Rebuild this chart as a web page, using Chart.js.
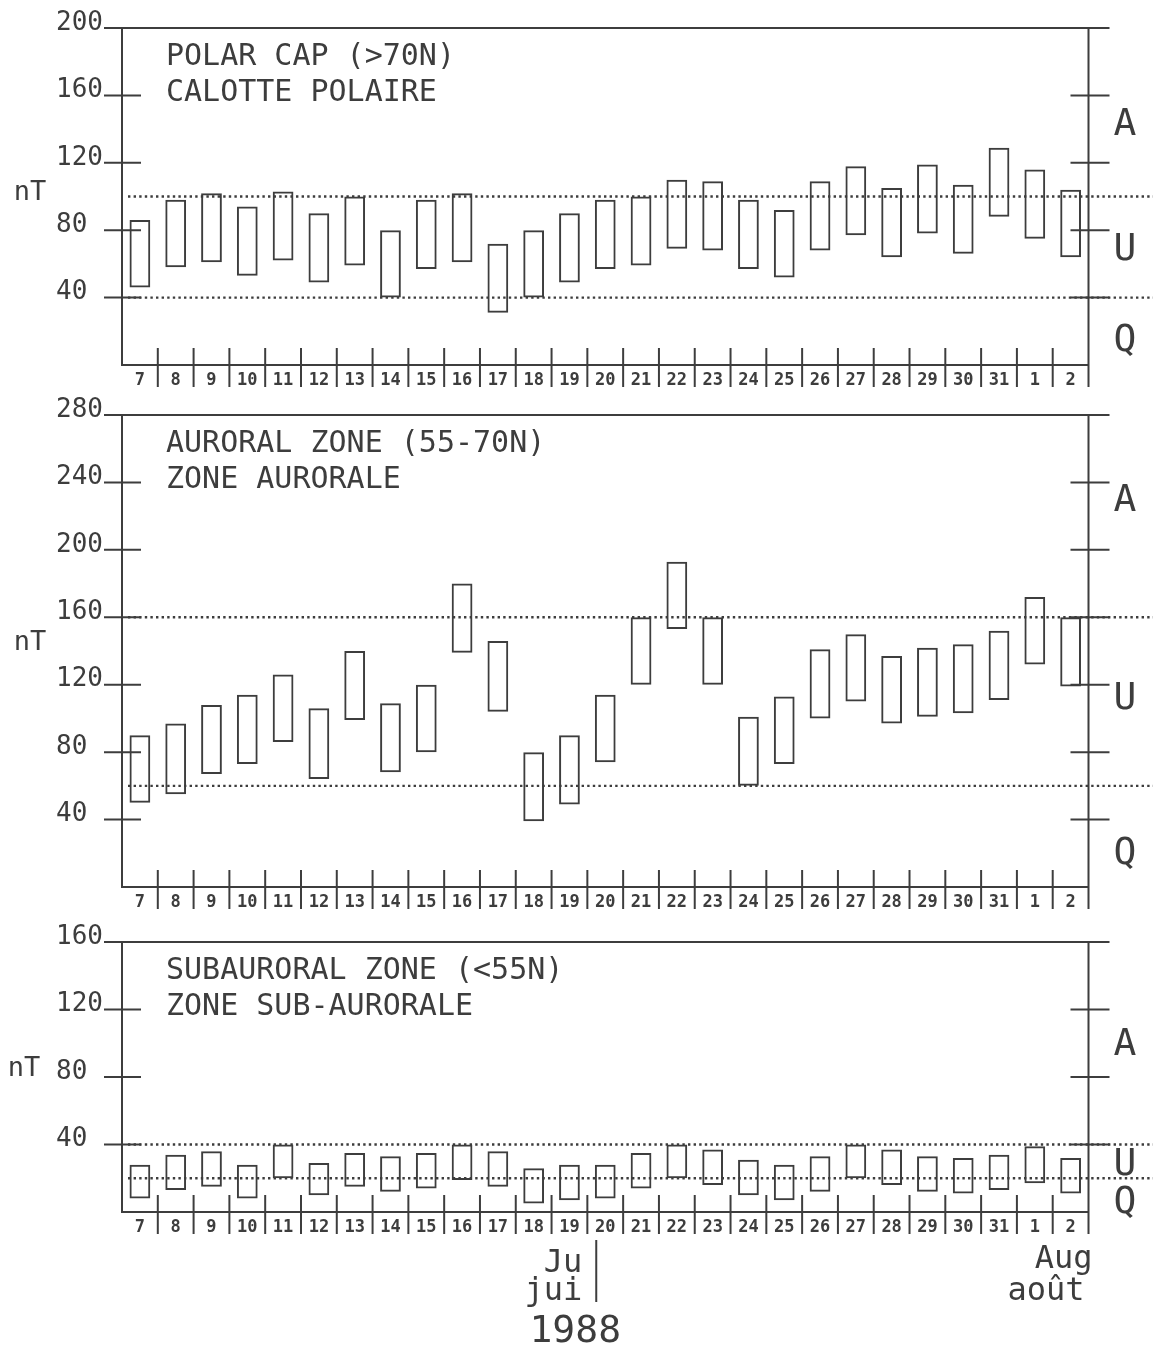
<!DOCTYPE html>
<html>
<head>
<meta charset="utf-8">
<script src="https://cdn.jsdelivr.net/npm/chart.js@4.4.1/dist/chart.umd.min.js"></script>
<style>
  body { margin: 0; background: #fff; }
  #page { position: relative; width: 1153px; height: 1345px; background: #fff; }
  .panel { position: absolute; left: 0; width: 1153px; }
</style>
</head>
<body>
<div id="page">
  <div class="panel" style="top:0;height:392px"><canvas id="polarChart"></canvas></div>
  <div class="panel" style="top:392px;height:523px"><canvas id="auroralChart"></canvas></div>
  <div class="panel" style="top:915px;height:430px"><canvas id="subChart"></canvas></div>
</div>
<script>
// Days, July 7 1988 to August 2 1988
const days = ['7', '8', '9', '10', '11', '12', '13', '14', '15', '16', '17', '18', '19', '20',
  '21', '22', '23', '24', '25', '26', '27', '28', '29', '30', '31', '1', '2'];

// Polar cap (>70N) daily range, nT
const polarLow  = [46, 58, 61, 53, 62, 49, 59, 40, 57, 61, 31, 40, 49, 57, 59, 69, 68, 57, 52, 68, 77, 64, 78, 66, 88, 75, 64];
const polarHigh = [86, 98, 102, 94, 103, 90, 100, 80, 98, 102, 72, 80, 90, 98, 100, 110, 109, 98, 92, 109, 118, 105, 119, 107, 129, 116, 104];

// Auroral zone (55-70N)
const auroralLow  = [50, 55, 67, 73, 86, 64, 99, 68, 80, 139, 104, 39, 49, 74, 120, 153, 120, 60, 73, 100, 110, 97, 101, 103, 111, 132, 119];
const auroralHigh = [90, 97, 108, 114, 126, 106, 140, 109, 120, 180, 146, 80, 90, 114, 160, 193, 160, 101, 113, 141, 150, 137, 142, 144, 152, 172, 160];

// Subauroral zone (<55N)
const subLow  = [8, 13, 15, 8, 20, 10, 15, 12, 14, 19, 15, 5, 7, 8, 14, 20, 16, 10, 7, 12, 20, 16, 12, 11, 13, 17, 11];
const subHigh = [28, 34, 36, 28, 40, 29, 35, 33, 35, 40, 36, 26, 28, 28, 35, 40, 37, 31, 28, 33, 40, 37, 33, 32, 34, 39, 32];

// dotted activity thresholds
const polarLevels = [40, 100];
const auroralLevels = [60, 160];
const subLevels = [20, 40];

const polarTitle = ['POLAR CAP (>70N)', 'CALOTTE POLAIRE'];
const auroralTitle = ['AURORAL ZONE (55-70N)', 'ZONE AURORALE'];
const subTitle = ['SUBAURORAL ZONE (<55N)', 'ZONE SUB-AURORALE'];
const zoneLetters = ['A', 'U', 'Q'];

const ink = '#3d3d3d';
const mono = '"DejaVu Sans Mono", "Liberation Mono", monospace';

function seg(ctx, x1, y1, x2, y2) {
  ctx.beginPath();
  ctx.moveTo(x1, y1);
  ctx.lineTo(x2, y2);
  ctx.stroke();
}

// frame, stubs, thresholds and lettering of each panel
const panelDecor = {
  id: 'panelDecor',
  beforeDatasetsDraw(chart, args, opts) {
    const { ctx, chartArea: a, scales: { y } } = chart;
    ctx.save();
    ctx.strokeStyle = ink;
    ctx.lineWidth = 2.4;
    ctx.setLineDash([2.4, 3.2]);
    opts.levels.forEach(v => {
      const py = y.getPixelForValue(v);
      seg(ctx, a.left + 6, py, chart.width, py);
    });
    ctx.restore();
  },
  afterDatasetsDraw(chart, args, opts) {
    const { ctx, chartArea: a, scales: { x, y } } = chart;
    ctx.save();
    ctx.strokeStyle = ink;
    ctx.fillStyle = ink;
    ctx.lineWidth = 2;

    seg(ctx, a.left - 18, a.top, a.right + 21, a.top);
    seg(ctx, a.right, a.top, a.right, a.bottom + 22);

    y.ticks.forEach(t => {
      if (t.value <= y.min || t.value >= y.max) return;
      const py = y.getPixelForValue(t.value);
      seg(ctx, a.left - 18, py, a.left + 19, py);
      seg(ctx, a.right - 18, py, a.right + 21, py);
    });

    for (let i = 1; i < days.length; i++) {
      const px = (x.getPixelForValue(i - 1) + x.getPixelForValue(i)) / 2;
      seg(ctx, px, a.bottom - 17, px, a.bottom + 22);
    }

    ctx.textBaseline = 'middle';
    ctx.textAlign = 'left';
    ctx.font = '30px ' + mono;
    ctx.fillText(opts.title[0], 166, a.top + 29);
    ctx.fillText(opts.title[1], 166, a.top + 65);

    ctx.font = '27px ' + mono;
    ctx.textAlign = 'center';
    ctx.fillText('nT', opts.unitX, a.top + opts.unitY + 3);

    ctx.font = '38px ' + mono;
    zoneLetters.forEach((l, i) => ctx.fillText(l, 1125, a.top + opts.letterY[i] + 3));

    if (opts.months) {
      const bx = x.getPixelForValue(13) - 9;
      seg(ctx, bx, a.bottom + 28, bx, a.bottom + 90);
      ctx.textBaseline = 'alphabetic';
      ctx.textAlign = 'right';
      ctx.font = '32px ' + mono;
      ctx.fillText('Ju', bx - 14, a.bottom + 60);
      ctx.fillText('jui', bx - 14, a.bottom + 88);
      ctx.font = '38px ' + mono;
      ctx.textAlign = 'center';
      ctx.fillText('1988', bx - 21, a.bottom + 130);
      ctx.font = '32px ' + mono;
      ctx.textAlign = 'right';
      ctx.fillText('Aug', a.right + 4, a.bottom + 56);
      ctx.fillText('août', a.right - 4, a.bottom + 88);
    }
    ctx.restore();
  }
};

function makePanel(id, low, high, yMax, levels, title, extra) {
  return new Chart(document.getElementById(id), {
    type: 'bar',
    data: {
      labels: days,
      datasets: [{
        data: days.map((d, i) => [low[i], high[i]]),
        backgroundColor: 'rgba(0,0,0,0)',
        borderColor: ink,
        borderWidth: 2,
        borderSkipped: false,
        barPercentage: 0.58,
        categoryPercentage: 1.0
      }]
    },
    options: {
      responsive: true,
      maintainAspectRatio: false,
      animation: false,
      layout: { padding: { left: 0, right: 64.5, top: extra.top, bottom: extra.bottom } },
      plugins: {
        legend: { display: false },
        tooltip: { enabled: false },
        panelDecor: Object.assign({ levels: levels, title: title }, extra)
      },
      scales: {
        x: {
          grid: { display: false, drawTicks: false },
          border: { display: true, color: ink, width: 2 },
          ticks: {
            color: ink,
            font: { family: mono, size: 17, weight: 'bold' },
            padding: 5,
            maxRotation: 0,
            autoSkip: false
          },
          afterFit: s => {
            s.height = 24;
            s.paddingLeft = 0;
            s.paddingRight = 0;
          }
        },
        y: {
          min: 0,
          max: yMax,
          grid: { display: false, drawTicks: false },
          border: { display: true, color: ink, width: 2 },
          ticks: {
            stepSize: 40,
            color: ink,
            font: { family: mono, size: 26 },
            padding: 19,
            labelOffset: -5,
            callback: v => v === 0 ? '' : (v < 100 ? v + ' ' : String(v))
          },
          afterFit: s => {
            s.width = 122;
            s.paddingTop = 0;
            s.paddingBottom = 0;
          }
        }
      }
    },
    plugins: [panelDecor]
  });
}

makePanel('polarChart', polarLow, polarHigh, 200, polarLevels, polarTitle,
  { top: 28, bottom: 3, unitX: 30, unitY: 162, letterY: [94, 219, 310] });
makePanel('auroralChart', auroralLow, auroralHigh, 280, auroralLevels, auroralTitle,
  { top: 23, bottom: 4, unitX: 30, unitY: 225, letterY: [83, 281, 436] });
makePanel('subChart', subLow, subHigh, 160, subLevels, subTitle,
  { top: 27, bottom: 109, unitX: 24, unitY: 124, letterY: [100, 220, 258], months: true });
</script>
</body>
</html>
